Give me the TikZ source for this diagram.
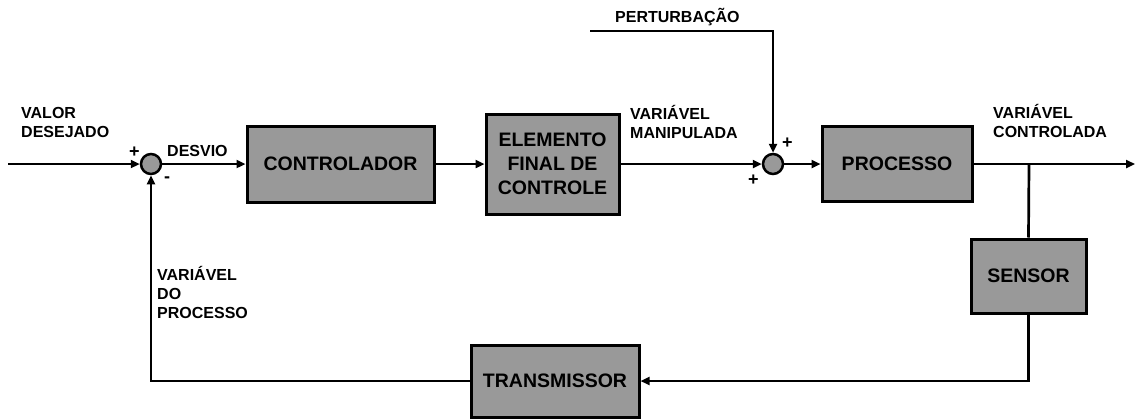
\documentclass[tikz,border=0pt]{standalone}
\usepackage{fontspec}
\setmainfont{Liberation Sans}
\usetikzlibrary{arrows.meta}
\definecolor{boxgray}{RGB}{153,153,153}
\tikzset{
  blk/.style={draw=black, line width=3pt, fill=boxgray, rectangle, inner sep=0pt,
    align=center, font=\fontsize{19.5}{24}\selectfont\bfseries},
  sumj/.style={draw=black, line width=2.5pt, fill=boxgray, circle, minimum size=20pt, inner sep=0pt},
  conn/.style={line width=2.7pt, draw=black},
  arr/.style={conn, -{Triangle[length=9pt,width=8pt]}},
  lbl/.style={anchor=base west, inner sep=0pt, align=left,
    font=\fontsize{16}{19}\selectfont\bfseries},
  sgn/.style={anchor=base west, inner sep=0pt, font=\fontsize{18}{18}\selectfont\bfseries},
}
\begin{document}
\begin{tikzpicture}[x=1pt,y=-1pt]
\useasboundingbox (0,0) rectangle (1135,418);
% blocks
\node[blk, minimum width=187pt, minimum height=76pt] (ctrl) at (340.5,164) {CONTROLADOR};
\node[blk, minimum width=133pt, minimum height=100pt] (efc) at (552.5,164) {ELEMENTO\\FINAL DE\\CONTROLE};
\node[blk, minimum width=150pt, minimum height=75pt] (proc) at (897,164) {PROCESSO};
\node[blk, minimum width=115pt, minimum height=74pt] (sens) at (1028.5,276) {SENSOR};
\node[blk, minimum width=168pt, minimum height=72pt] (trans) at (555,381) {TRANSMISSOR};
% summing junctions
\node[sumj] (s1) at (151,164) {};
\node[sumj] (s2) at (773,164) {};
% free ends
\coordinate (in) at (8,164);
\coordinate (out) at (1135,164);
\coordinate (br) at (1029,164);
\coordinate (pert) at (590,31);
% connectors
\draw[arr] (in) -- (s1.west);
\draw[arr] (s1.east) -- (ctrl.west);
\draw[arr] (ctrl.east) -- (efc.west);
\draw[arr] (efc.east) -- (s2.west);
\draw[arr] (s2.east) -- (proc.west);
\draw[arr] (proc.east) -- (out);
\draw[conn] (br) -- (sens.north);
\draw[arr] (sens.south) |- (trans.east);
\draw[arr] (trans.west) -| (s1.south);
\draw[arr] (pert) -| (s2.north);
% labels
\node[lbl] (lvd) at (21,137) {VALOR\\DESEJADO};
\node[sgn] (lp1) at (129,157) {+};
\node[lbl] (ldes) at (167,156) {DESVIO};
\node[sgn] (lm1) at (164,182) {-};
\node[lbl] (lvm) at (630,138) {VARI\'AVEL\\MANIPULADA};
\node[sgn] (lp2) at (782,148) {+};
\node[sgn] (lp3) at (748,185) {+};
\node[lbl] (lpert) at (615,22) {PERTURBA\c{C}\~AO};
\node[lbl] (lvc) at (993,137) {VARI\'AVEL\\CONTROLADA};
\node[lbl] (lvp) at (157,318) {VARI\'AVEL\\DO\\PROCESSO};
\end{tikzpicture}
\end{document}
